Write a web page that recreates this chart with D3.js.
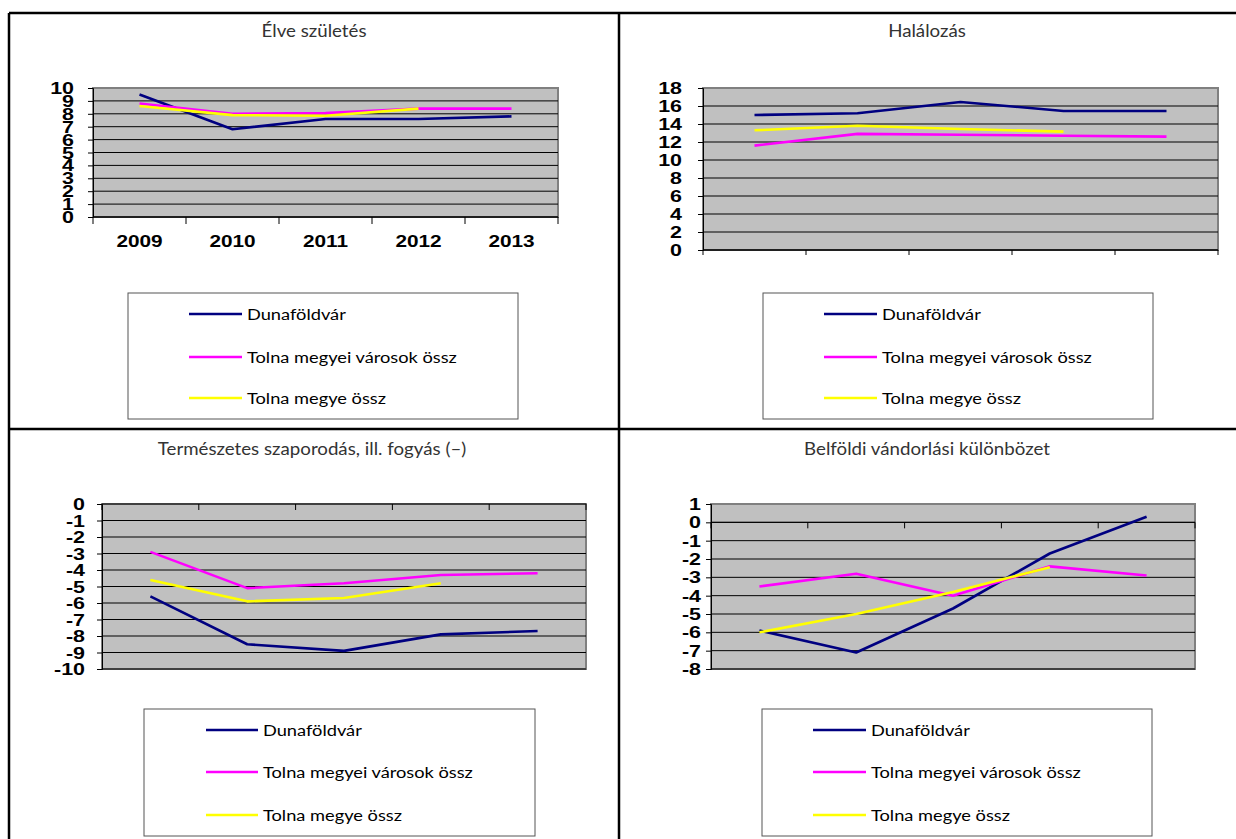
<!DOCTYPE html>
<html><head><meta charset="utf-8">
<script src="https://cdn.jsdelivr.net/npm/d3@7"></script>
<style>body{margin:0;background:#fff;} svg{display:block}</style>
</head><body><svg id="c" width="1236" height="839"></svg>
<script>
// ---- data ----
const years = ["2009", "2010", "2011", "2012", "2013"];
const seriesNames = ["Dunaföldvár", "Tolna megyei városok össz", "Tolna megye össz"];
const seriesColors = ["#000080", "#ff00ff", "#ffff00"];

const birthDuna  = [9.5, 6.8, 7.6, 7.6, 7.8];
const birthVaros = [8.8, 8.0, 8.05, 8.4, 8.4];
const birthMegye = [8.6, 7.9, 7.85, 8.4];

const deathDuna  = [15.0, 15.2, 16.45, 15.45, 15.45];
const deathVaros = [11.6, 12.9, 12.8, 12.7, 12.6];
const deathMegye = [13.3, 13.8, 13.45, 13.15];

const natDuna  = [-5.6, -8.5, -8.9, -7.9, -7.7];
const natVaros = [-2.9, -5.1, -4.8, -4.3, -4.2];
const natMegye = [-4.6, -5.9, -5.7, -4.8];

const migDuna  = [-5.9, -7.1, -4.7, -1.7, 0.3];
const migVaros = [-3.5, -2.8, -4.0, -2.4, -2.9];
const migMegye = [-6.0, -5.0, -3.8, -2.45];

const ticksBirth = [0, 1, 2, 3, 4, 5, 6, 7, 8, 9, 10];
const ticksDeath = [0, 2, 4, 6, 8, 10, 12, 14, 16, 18];
const ticksNat = [0, -1, -2, -3, -4, -5, -6, -7, -8, -9, -10];
const ticksMig = [1, 0, -1, -2, -3, -4, -5, -6, -7, -8];

const titles = ["Élve születés", "Halálozás", "Természetes szaporodás, ill. fogyás (–)", "Belföldi vándorlási különbözet"];

// ---- layout ----
const panels = [
  {title: titles[0], data: [birthDuna, birthVaros, birthMegye], ticks: ticksBirth, domain: [0, 10],
   plot: {l: 93, r: 558, t: 88, b: 217}, cx: 314, ty: 37, showCats: true, tickLen: 7, labelRight: 74,
   legend: {l: 128, t: 293, r: 518, b: 419, lx1: 189, lx2: 242, tx: 247, ys: [314, 357, 398]}},
  {title: titles[1], data: [deathDuna, deathVaros, deathMegye], ticks: ticksDeath, domain: [0, 18],
   plot: {l: 703, r: 1218, t: 88, b: 250}, cx: 927, ty: 37, showCats: false, tickLen: 5, labelRight: 682,
   legend: {l: 763, t: 293, r: 1153, b: 419, lx1: 824, lx2: 877, tx: 882, ys: [314, 357, 398]}},
  {title: titles[2], data: [natDuna, natVaros, natMegye], ticks: ticksNat, domain: [-10, 0],
   plot: {l: 102, r: 586, t: 504, b: 669}, cx: 312, ty: 455, showCats: false, tickLen: 6, labelRight: 85,
   legend: {l: 144, t: 709, r: 535, b: 836, lx1: 206, lx2: 258, tx: 263, ys: [730, 772, 815]}},
  {title: titles[3], data: [migDuna, migVaros, migMegye], ticks: ticksMig, domain: [-8, 1],
   plot: {l: 711, r: 1195, t: 504, b: 669}, cx: 927, ty: 455, showCats: false, tickLen: 6, labelRight: 701,
   legend: {l: 762, t: 709, r: 1152, b: 836, lx1: 813, lx2: 866, tx: 871, ys: [730, 772, 815]}}
];

const svg = d3.select("#c");
const SX = 1.3; // horizontal stretch of the original raster text

function sText(g, x, y, txt, anchor, sx) {
  return g.append("g").attr("transform", `translate(${x},${y}) scale(${sx},1)`)
    .append("text").attr("text-anchor", anchor).text(txt);
}

// table borders
const border = svg.append("g").attr("stroke", "#000").attr("stroke-width", 2.5);
border.append("line").attr("x1", 9).attr("x2", 1236).attr("y1", 13).attr("y2", 13);
border.append("line").attr("x1", 9).attr("x2", 9).attr("y1", 13).attr("y2", 839);
border.append("line").attr("x1", 619).attr("x2", 619).attr("y1", 13).attr("y2", 839);
border.append("line").attr("x1", 9).attr("x2", 1236).attr("y1", 429).attr("y2", 429);

panels.forEach(p => {
  const g = svg.append("g");
  const P = p.plot;
  const x = d3.scaleBand().domain(years).range([P.l, P.r]).padding(0);
  const y = d3.scaleLinear().domain(p.domain).range([P.b, P.t]);

  // title
  sText(g, p.cx, p.ty, p.title, "middle", 1.1)
    .attr("font-family", "Lato, 'Noto Sans', sans-serif").attr("font-size", 17)
    .attr("fill", "#333");

  // plot area
  g.append("rect").attr("x", P.l).attr("y", P.t).attr("width", P.r - P.l).attr("height", P.b - P.t)
    .attr("fill", "#c0c0c0").attr("stroke", "#808080").attr("stroke-width", 2);

  // gridlines
  g.append("g").selectAll("line").data(p.ticks.filter(v => v !== p.domain[1])).join("line")
    .attr("x1", P.l).attr("x2", P.r).attr("y1", d => y(d)).attr("y2", d => y(d))
    .attr("stroke", "#000").attr("stroke-width", 1);

  // y axis
  const yAxis = d3.axisLeft(y).tickValues(p.ticks).tickSize(5).tickFormat(d3.format("d"));
  const ya = g.append("g").attr("transform", `translate(${P.l},0)`).call(yAxis);
  ya.select(".domain").attr("stroke", "#000");
  ya.selectAll(".tick text").remove();
  p.ticks.forEach(v => {
    sText(g, p.labelRight, y(v) + 6, String(v), "end", SX)
      .attr("font-family", "'Liberation Sans', Arial, sans-serif").attr("font-weight", "bold")
      .attr("font-size", 16.5).attr("fill", "#000");
  });

  // x axis at zero
  const y0 = y(0);
  const xa = g.append("g");
  xa.append("line").attr("x1", P.l).attr("x2", P.r).attr("y1", y0).attr("y2", y0).attr("stroke", "#000");
  const bounds = years.map(d => x(d)).concat([x(years[years.length - 1]) + x.bandwidth()]);
  xa.selectAll("line.tk").data(bounds).join("line").attr("class", "tk")
    .attr("x1", d => d).attr("x2", d => d).attr("y1", y0).attr("y2", y0 + p.tickLen).attr("stroke", "#000");
  if (p.showCats) {
    years.forEach(yr => {
      sText(g, x(yr) + x.bandwidth() / 2, P.b + 30, yr, "middle", SX)
        .attr("font-family", "'Liberation Sans', Arial, sans-serif").attr("font-weight", "bold")
        .attr("font-size", 16).attr("fill", "#000");
    });
  }

  // series lines
  const line = d3.line().x((d, i) => x(years[i]) + x.bandwidth() / 2).y(d => y(d));
  p.data.forEach((s, k) => {
    g.append("path").datum(s).attr("d", line).attr("fill", "none")
      .attr("stroke", seriesColors[k]).attr("stroke-width", 2.6).attr("stroke-linejoin", "round");
  });

  // legend
  const L = p.legend;
  g.append("rect").attr("x", L.l).attr("y", L.t).attr("width", L.r - L.l).attr("height", L.b - L.t)
    .attr("fill", "#fff").attr("stroke", "#555").attr("stroke-width", 1);
  seriesNames.forEach((n, k) => {
    g.append("line").attr("x1", L.lx1).attr("x2", L.lx2).attr("y1", L.ys[k]).attr("y2", L.ys[k])
      .attr("stroke", seriesColors[k]).attr("stroke-width", 2.6);
    sText(g, L.tx, L.ys[k] + 5.5, n, "start", 1.14)
      .attr("font-family", "Lato, 'Noto Sans', sans-serif")
      .attr("font-size", 16).attr("fill", "#000");
  });
});
</script>
</body></html>
